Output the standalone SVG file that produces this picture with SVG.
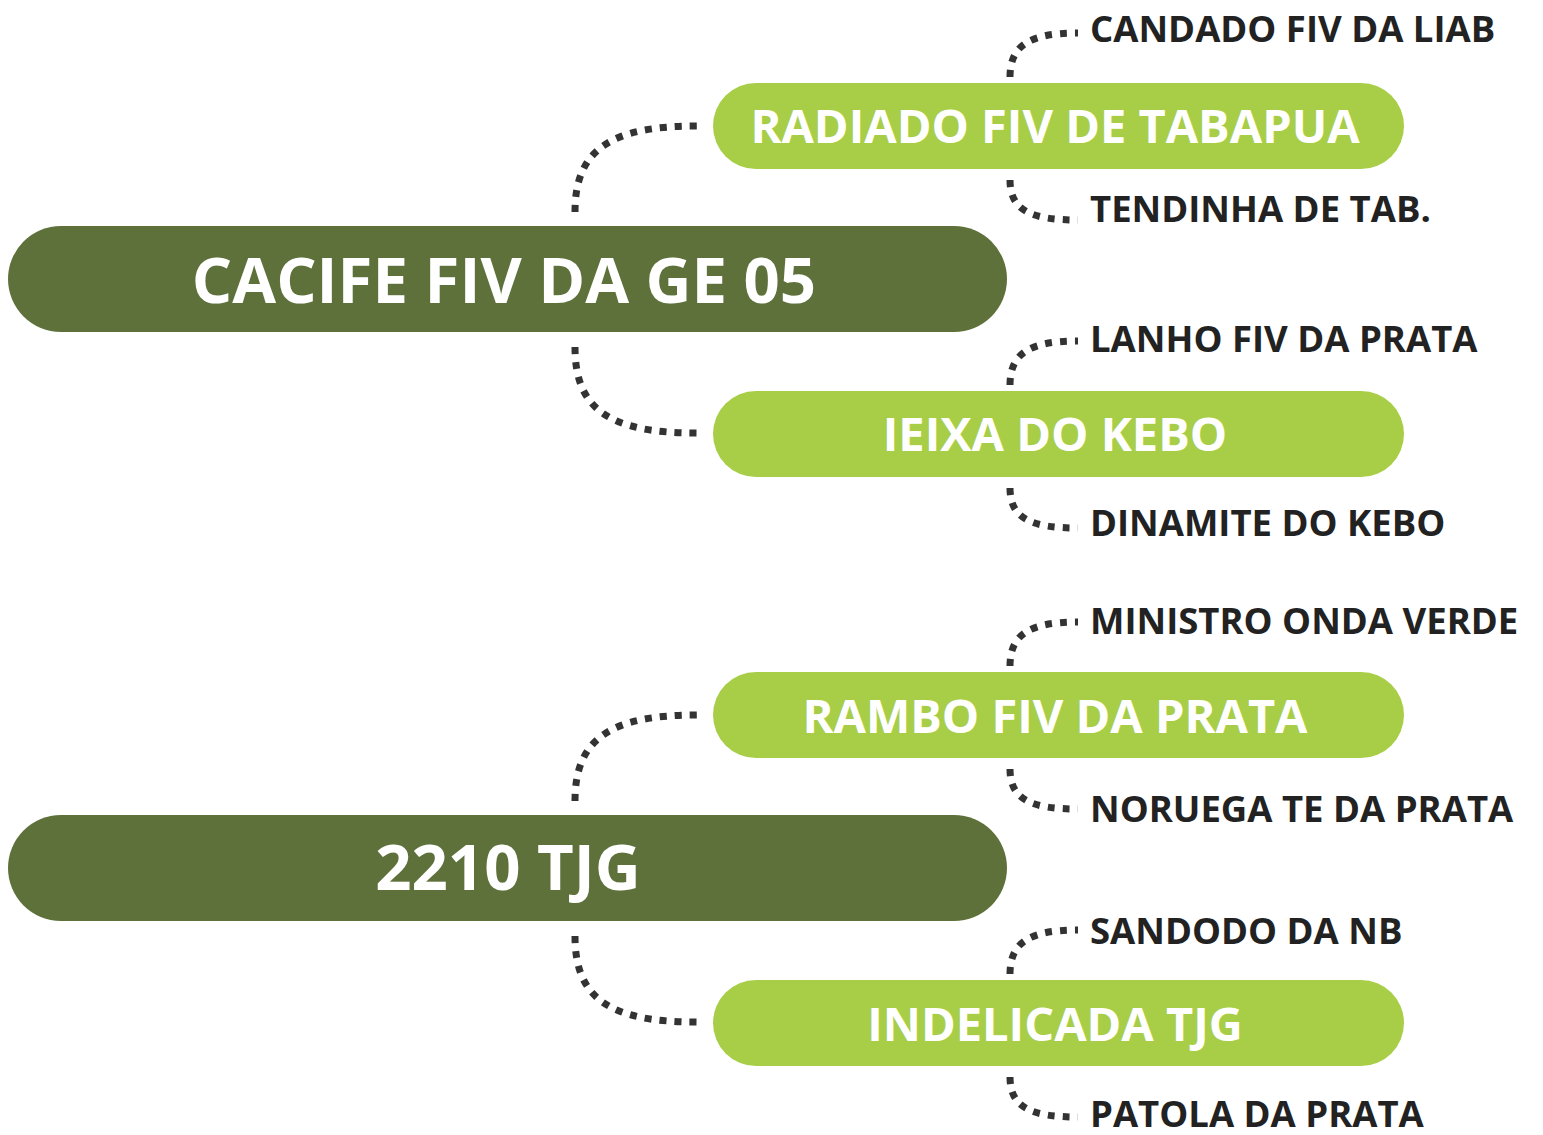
<svg xmlns="http://www.w3.org/2000/svg" width="1543" height="1135" viewBox="0 0 1543 1135">
<style>
.dark{fill:#5E713B}
.light{fill:#A8CE48}
.t1{font-family:"Open Sans","Liberation Sans",sans-serif;font-weight:bold;font-size:63.5px;fill:#fff;text-anchor:middle}
.t2{font-family:"Open Sans","Liberation Sans",sans-serif;font-weight:bold;font-size:47px;fill:#fff;text-anchor:middle}
.t3{font-family:"Open Sans","Liberation Sans",sans-serif;font-weight:bold;font-size:36.5px;fill:#222}
.c{fill:none;stroke:#333;stroke-width:7;stroke-dasharray:7 8}
</style>
<rect width="1543" height="1135" fill="#fff"/>
<g id="connectors">
<path class="c" d="M575,212 C575,150 610,126 697,126"/>
<path class="c" d="M575,347 C575,410 610,433 697,433"/>
<path class="c" d="M575,801 C575,739 610,715 697,715"/>
<path class="c" d="M575,936 C575,999 610,1022 697,1022"/>
<path class="c" d="M1010,77 C1010,45 1030,33 1078,33"/>
<path class="c" d="M1010,180 C1010,210 1030,220 1078,220"/>
<path class="c" d="M1010,385 C1010,353 1030,341 1078,341"/>
<path class="c" d="M1010,488 C1010,518 1030,528 1078,528"/>
<path class="c" d="M1010,666 C1010,634 1030,622 1078,622"/>
<path class="c" d="M1010,769 C1010,799 1030,809 1078,809"/>
<path class="c" d="M1010,974 C1010,942 1030,930 1078,930"/>
<path class="c" d="M1010,1077 C1010,1107 1030,1117 1078,1117"/>
</g>
<g id="n1"><rect class="dark" x="8" y="226" width="999" height="106" rx="53"/><text class="t1" x="504" y="303">CACIFE FIV DA GE 05</text></g>
<g id="n2"><rect class="dark" x="8" y="815" width="999" height="106" rx="53"/><text class="t1" x="508" y="890">2210 TJG</text></g>
<g id="n3"><rect class="light" x="713" y="83" width="691" height="86" rx="43"/><text class="t2" x="1055" y="143">RADIADO FIV DE TABAPUA</text></g>
<g id="n4"><rect class="light" x="713" y="391" width="691" height="86" rx="43"/><text class="t2" x="1055" y="451">IEIXA DO KEBO</text></g>
<g id="n5"><rect class="light" x="713" y="672" width="691" height="86" rx="43"/><text class="t2" x="1055" y="733">RAMBO FIV DA PRATA</text></g>
<g id="n6"><rect class="light" x="713" y="980" width="691" height="86" rx="43"/><text class="t2" x="1055" y="1041">INDELICADA TJG</text></g>
<g id="l1"><text class="t3" x="1090" y="42">CANDADO FIV DA LIAB</text></g>
<g id="l2"><text class="t3" x="1090" y="222">TENDINHA DE TAB.</text></g>
<g id="l3"><text class="t3" x="1090" y="352">LANHO FIV DA PRATA</text></g>
<g id="l4"><text class="t3" x="1090" y="536">DINAMITE DO KEBO</text></g>
<g id="l5"><text class="t3" x="1090" y="634">MINISTRO ONDA VERDE</text></g>
<g id="l6"><text class="t3" x="1090" y="822">NORUEGA TE DA PRATA</text></g>
<g id="l7"><text class="t3" x="1090" y="944">SANDODO DA NB</text></g>
<g id="l8"><text class="t3" x="1090" y="1127">PATOLA DA PRATA</text></g>
</svg>
